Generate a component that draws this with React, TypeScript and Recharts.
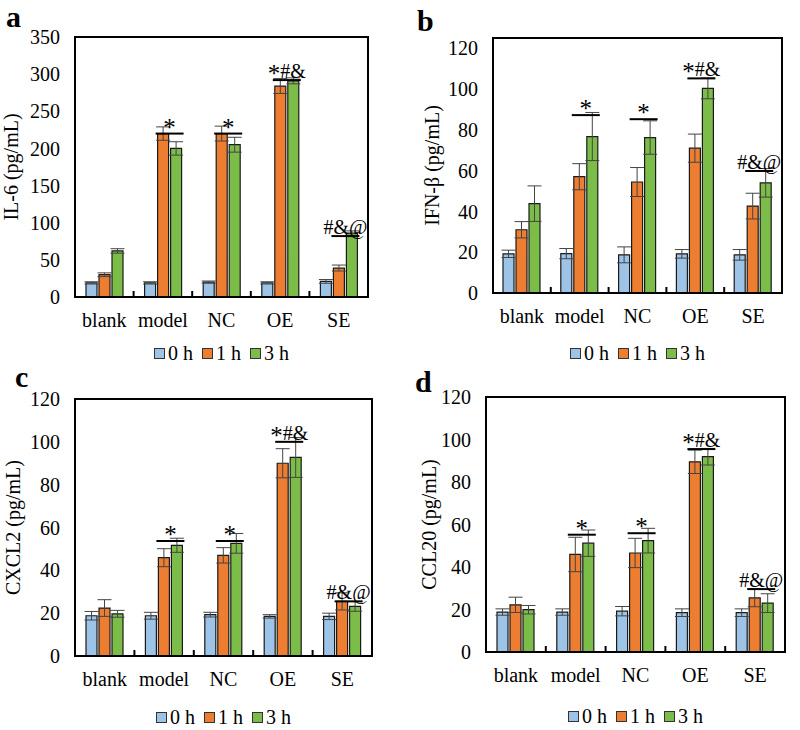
import React from "react";
import {
  BarChart,
  Bar,
  XAxis,
  YAxis,
  ErrorBar,
  LabelList,
  Legend,
  ReferenceArea,
} from "recharts";

const FONT = '"Liberation Serif", "Times New Roman", serif';

const categories = ["blank", "model", "NC", "OE", "SE"];
const seriesNames = ["0 h", "1 h", "3 h"];
const seriesColors = ["#9dc3e6", "#ed7d31", "#7cbd4a"];

// a: IL-6
const il6H0 = [19, 19, 20, 19, 21];
const il6H1 = [30, 220, 220, 284, 39];
const il6H3 = [62, 200, 205, 291, 86];
const il6E0 = [1.5, 1.5, 1.5, 1.5, 2.5];
const il6E1 = [2.5, 9, 10, 10, 4];
const il6E3 = [3, 9, 10, 4, 3];
const il6Marks = ["", "*", "*", "*#&", "#&@"];
const il6Levels = [0, 220, 220, 292, 82];

// b: IFN-β
const ifnH0 = [19.2, 19.3, 18.7, 19.2, 18.7];
const ifnH1 = [31, 57, 54.4, 71, 42.6];
const ifnH3 = [43.8, 76.7, 76.2, 100.3, 54];
const ifnE0 = [1.8, 2.5, 3.9, 2.1, 2.6];
const ifnE1 = [4, 6.4, 7.1, 6.9, 6.3];
const ifnE3 = [8.7, 11.8, 8.2, 5.1, 7];
const ifnMarks = ["", "*", "*", "*#&", "#&@"];
const ifnLevels = [0, 87.2, 85.2, 105.2, 59.8];

// c: CXCL2
const cxclH0 = [18.8, 18.8, 19.3, 18.5, 18.5];
const cxclH1 = [22.4, 45.9, 47, 90, 25.5];
const cxclH3 = [19.7, 51.7, 52.6, 92.7, 23.2];
const cxclE0 = [2, 1.6, 1.1, 0.8, 1.5];
const cxclE1 = [3.9, 4.2, 3.6, 6.8, 4];
const cxclE3 = [1.6, 3.3, 4.6, 9.3, 2.3];
const cxclMarks = ["", "*", "*", "*#&", "#&@"];
const cxclLevels = [0, 53.7, 53.7, 100, 25.5];

// d: CCL20
const cclH0 = [18.8, 18.8, 19.2, 18.5, 18.5];
const cclH1 = [22.2, 45.9, 46.6, 89.5, 25.5];
const cclH3 = [19.9, 51.2, 52.4, 91.9, 23];
const cclE0 = [1.5, 1.5, 2.2, 1.8, 1.8];
const cclE1 = [3.6, 8.1, 6.9, 5.5, 4.2];
const cclE3 = [2, 6.2, 5.8, 3.9, 4.4];
const cclMarks = ["", "*", "*", "*#&", "#&@"];
const cclLevels = [0, 55.2, 55.9, 95.5, 29.6];

const ticks350 = [0, 50, 100, 150, 200, 250, 300, 350];
const ticks120 = [0, 20, 40, 60, 80, 100, 120];

const BAR_SIZE = 11;
const BAR_GAP = 2;

function buildRows(h0: number[], h1: number[], h3: number[], e0: number[], e1: number[], e3: number[]) {
  return categories.map((cat, i) => ({
    cat,
    v0: h0[i],
    v1: h1[i],
    v3: h3[i],
    e0: e0[i],
    e1: e1[i],
    e3: e3[i],
  }));
}

// y title, plus the small inside ticks on the category boundaries along the x axis
function YTitle({ viewBox, text, cx, plotW }: any) {
  const tx = viewBox.x + cx;
  const ty = viewBox.y + viewBox.height / 2;
  const left = viewBox.x + viewBox.width;
  const bottom = viewBox.y + viewBox.height;
  const step = plotW / categories.length;
  return (
    <g>
      <text
        x={tx}
        y={ty}
        transform={`rotate(-90 ${tx} ${ty})`}
        textAnchor="middle"
        dominantBaseline="central"
        fontSize={20}
        fontFamily={FONT}
        fill="#000"
      >
        {text}
      </text>
      {categories.slice(1).map((c, k) => {
        const bx = left + (k + 1) * step;
        return <line key={c} x1={bx} x2={bx} y1={bottom} y2={bottom - 6} stroke="#000" strokeWidth={2} />;
      })}
    </g>
  );
}

// significance bar over the 1 h / 3 h pair, positioned from the green (3 h) bar's rect
function makeMark(marks: string[], levels: number[]) {
  return (props: any) => {
    const vb = props.viewBox ?? props;
    const { x, y, width, height } = vb;
    const index = props.index;
    const value = Number(props.value);
    const mark = marks[index];
    const level = levels[index];
    if (!mark || !level || !value) return null;
    const bottom = y + height;
    const ly = bottom - (level / value) * height;
    const x1 = x - width - BAR_GAP - 2;
    const x2 = x + width + 2;
    const chars = mark.split("");
    return (
      <g>
        <line x1={x1} y1={ly} x2={x2} y2={ly} stroke="#000" strokeWidth={2} />
        <text
          x={(x1 + x2) / 2}
          y={ly - 2}
          textAnchor="middle"
          fontSize={20}
          fontFamily={FONT}
          fill="#000"
        >
          {chars.map((ch, i) => {
            const dy = (ch === "*" ? 4 : 0) - (i > 0 && chars[i - 1] === "*" ? 4 : 0);
            return (
              <tspan key={i} fontSize={ch === "*" ? 25 : 20} dy={dy}>
                {ch}
              </tspan>
            );
          })}
        </text>
      </g>
    );
  };
}

function LegendContent({ payload }: any) {
  const items = payload && payload.length ? payload : seriesNames.map((n, i) => ({ value: n, color: seriesColors[i] }));
  return (
    <div style={{ display: "flex", justifyContent: "center", alignItems: "center", fontFamily: FONT, fontSize: 20, color: "#000", lineHeight: "18px" }}>
      {items.map((it: any, i: number) => (
        <span key={i} style={{ display: "inline-flex", alignItems: "center", marginRight: i < items.length - 1 ? 9 : 0 }}>
          <span
            style={{
              display: "inline-block",
              width: 9,
              height: 9,
              background: it.color,
              border: "1px solid #333",
              marginRight: 3,
            }}
          />
          {it.value}
        </span>
      ))}
    </div>
  );
}

type PanelProps = {
  letter: string;
  title: string;
  rows: any[];
  max: number;
  ticks: number[];
  marks: string[];
  levels: number[];
  box: { left: number; right: number; top: number; bottom: number };
  titleX: number;
  legendTop: number;
  letterX: number;
  letterBaseline: number;
};

function Panel(p: PanelProps) {
  const plotW = 400 - p.box.left - p.box.right;
  return (
    <div style={{ position: "relative", width: 400, height: 365 }}>
      <div
        style={{
          position: "absolute",
          left: p.letterX,
          top: p.letterBaseline - 25,
          fontFamily: FONT,
          fontWeight: "bold",
          fontSize: 30,
          lineHeight: "30px",
          color: "#000",
          zIndex: 2,
        }}
      >
        {p.letter}
      </div>
      <BarChart
        width={400}
        height={365}
        data={p.rows}
        margin={{ top: p.box.top, right: p.box.right, bottom: p.box.bottom - 30, left: 0 }}
        barSize={BAR_SIZE}
        barGap={BAR_GAP}
      >
        <ReferenceArea y1={0} y2={p.max} fill="none" stroke="#000" strokeWidth={2} ifOverflow="visible" />
        <XAxis
          dataKey="cat"
          height={30}
          axisLine={{ stroke: "#000", strokeWidth: 2 }}
          tickLine={false}
          tickSize={0}
          tickMargin={16}
          interval={0}
          tick={{ fontSize: 20, fill: "#000", fontFamily: FONT }}
        />
        <YAxis
          width={p.box.left}
          domain={[0, p.max]}
          ticks={p.ticks}
          allowDataOverflow
          axisLine={false}
          tickLine={false}
          tickSize={0}
          tickMargin={15}
          interval={0}
          tick={{ fontSize: 20, fill: "#000", fontFamily: FONT }}
          label={(lp: any) => <YTitle {...lp} text={p.title} cx={p.titleX} plotW={plotW} />}
        />
        <Legend
          layout="horizontal"
          verticalAlign="middle"
          align="center"
          content={<LegendContent />}
          wrapperStyle={{ left: p.box.left, width: plotW, top: p.legendTop, bottom: "auto" }}
        />
        <Bar dataKey="v0" name={seriesNames[0]} fill={seriesColors[0]} stroke="#1a1a1a" strokeWidth={1.2} isAnimationActive={false}>
          <ErrorBar dataKey="e0" width={7} stroke="#444" strokeWidth={1} direction="y" />
        </Bar>
        <Bar dataKey="v1" name={seriesNames[1]} fill={seriesColors[1]} stroke="#1a1a1a" strokeWidth={1.2} isAnimationActive={false}>
          <ErrorBar dataKey="e1" width={7} stroke="#444" strokeWidth={1} direction="y" />
        </Bar>
        <Bar dataKey="v3" name={seriesNames[2]} fill={seriesColors[2]} stroke="#1a1a1a" strokeWidth={1.2} isAnimationActive={false}>
          <ErrorBar dataKey="e3" width={7} stroke="#444" strokeWidth={1} direction="y" />
          <LabelList dataKey="v3" content={makeMark(p.marks, p.levels)} />
        </Bar>
      </BarChart>
    </div>
  );
}

export default function App() {
  return (
    <div style={{ position: "absolute", left: 0, top: 0, width: 800, height: 730, background: "#fff", overflow: "hidden" }}>
      <div style={{ position: "absolute", left: 0, top: 0 }}>
        <Panel
          letter="a"
          title="IL-6 (pg/mL)"
          rows={buildRows(il6H0, il6H1, il6H3, il6E0, il6E1, il6E3)}
          max={350}
          ticks={ticks350}
          marks={il6Marks}
          levels={il6Levels}
          box={{ left: 75, right: 32, top: 37, bottom: 68 }}
          titleX={11}
          legendTop={344}
          letterX={6}
          letterBaseline={27}
        />
      </div>
      <div style={{ position: "absolute", left: 400, top: 0 }}>
        <Panel
          letter="b"
          title="IFN-β (pg/mL)"
          rows={buildRows(ifnH0, ifnH1, ifnH3, ifnE0, ifnE1, ifnE3)}
          max={125}
          ticks={ticks120}
          marks={ifnMarks}
          levels={ifnLevels}
          box={{ left: 93, right: 18, top: 38, bottom: 72 }}
          titleX={32}
          legendTop={344}
          letterX={17}
          letterBaseline={31}
        />
      </div>
      <div style={{ position: "absolute", left: 0, top: 365 }}>
        <Panel
          letter="c"
          title="CXCL2 (pg/mL)"
          rows={buildRows(cxclH0, cxclH1, cxclH3, cxclE0, cxclE1, cxclE3)}
          max={120}
          ticks={ticks120}
          marks={cxclMarks}
          levels={cxclLevels}
          box={{ left: 75, right: 28, top: 34, bottom: 74 }}
          titleX={13}
          legendTop={343}
          letterX={15}
          letterBaseline={22}
        />
      </div>
      <div style={{ position: "absolute", left: 400, top: 365 }}>
        <Panel
          letter="d"
          title="CCL20 (pg/mL)"
          rows={buildRows(cclH0, cclH1, cclH3, cclE0, cclE1, cclE3)}
          max={120}
          ticks={ticks120}
          marks={cclMarks}
          levels={cclLevels}
          box={{ left: 86, right: 15, top: 32, bottom: 78 }}
          titleX={29}
          legendTop={342}
          letterX={15}
          letterBaseline={27}
        />
      </div>
    </div>
  );
}
